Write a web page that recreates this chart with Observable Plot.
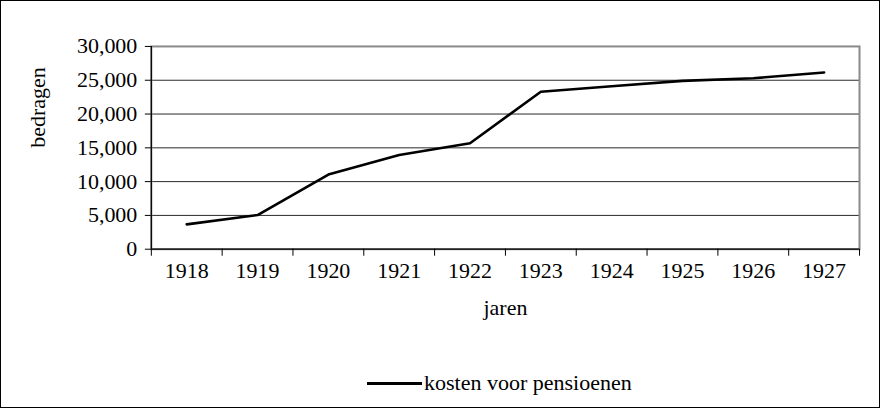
<!DOCTYPE html>
<html>
<head>
<meta charset="utf-8">
<script src="https://cdn.jsdelivr.net/npm/d3@7"></script>
<script src="https://cdn.jsdelivr.net/npm/@observablehq/plot@0.6"></script>
<style>
  html, body { margin: 0; padding: 0; background: #fff; }
  #wrap { position: relative; width: 880px; height: 408px; box-sizing: border-box; border: 1px solid #000; overflow: hidden; }
  #chart { position: absolute; left: -1px; top: -1px; }
</style>
</head>
<body>
<div id="wrap">
  <div id="chart"></div>
  <div id="legend" style="position:absolute; left:366px; top:369px; height:26px; white-space:nowrap; font-family:'Liberation Serif','Times New Roman','DejaVu Serif',serif; font-size:22px; line-height:26px; color:#000;"><span style="display:inline-block; width:55px; height:0; border-top:3px solid #000; vertical-align:middle; margin-right:2px; position:relative; top:-1px;"></span><span id="legend-text"></span></div>
</div>
<script>
const years = ["1918","1919","1920","1921","1922","1923","1924","1925","1926","1927"];
const costs = [3680, 5050, 11050, 13950, 15680, 23300, 24100, 24900, 25300, 26150];
const yTicks = [0, 5000, 10000, 15000, 20000, 25000, 30000];
const seriesName = "kosten voor pensioenen";
const xTitle = "jaren";
const yTitle = "bedragen";

document.getElementById("legend-text").textContent = seriesName;

const data = years.map((year, i) => ({pos: i + 0.5, year, value: costs[i]}));
const boundaries = d3.range(0, years.length + 1);
const centers = data.map(d => d.pos);

const chart = Plot.plot({
  width: 880,
  height: 408,
  marginLeft: 151,
  marginRight: 20,
  marginTop: 46,
  marginBottom: 159,
  style: {fontFamily: "'Liberation Serif', 'Times New Roman', 'DejaVu Serif', serif", fontSize: "22px", color: "#000", background: "transparent"},
  x: {domain: [0, years.length], axis: null},
  y: {domain: [0, 30000], axis: null},
  marks: [
    Plot.gridY(yTicks.filter(t => t > 0 && t < 30000), {stroke: "#2a2a2a", strokeOpacity: 1, strokeWidth: 1}),
    Plot.frame({stroke: "#8a8a8a", strokeWidth: 2}),
    Plot.ruleY([0], {stroke: "#000", strokeWidth: 1.2}),
    Plot.ruleX([0], {stroke: "#000", strokeWidth: 1.2}),
    Plot.axisY(yTicks, {tickSize: 6, tickPadding: 8, tickFormat: d3.format(","), stroke: "#000", fontSize: 22, label: null}),
    Plot.axisX(boundaries, {tickSize: 7, tickFormat: () => "", stroke: "#000", label: null}),
    Plot.axisX(centers, {tickSize: 0, tickPadding: 13, tickFormat: (d, i) => years[i], fontSize: 22, label: null}),
    Plot.text([yTitle], {frameAnchor: "left", dx: -114, rotate: -90, fontSize: 22, fill: "#000"}),
    Plot.text([xTitle], {frameAnchor: "bottom", dy: 66, fontSize: 22, fill: "#000"}),
    Plot.lineY(data, {x: "pos", y: "value", stroke: "#000", strokeWidth: 2.6})
  ]
});
document.getElementById("chart").appendChild(chart);
</script>
</body>
</html>
